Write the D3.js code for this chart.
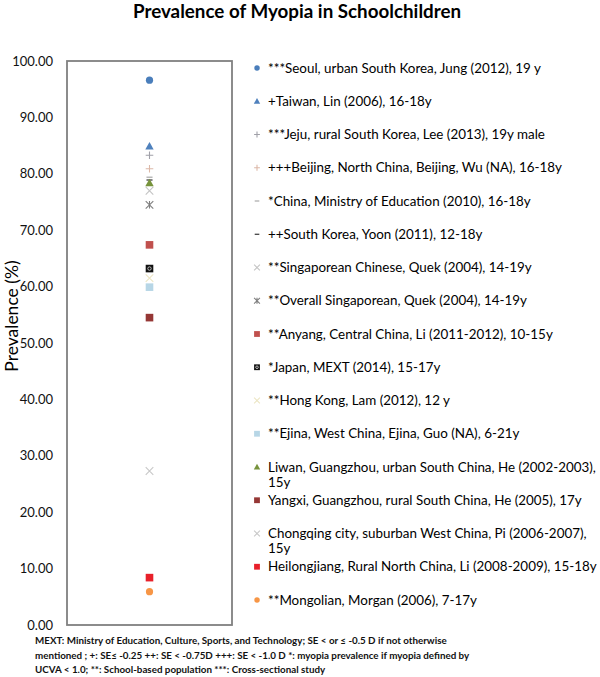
<!DOCTYPE html>
<html>
<head>
<meta charset="utf-8">
<script src="https://cdn.jsdelivr.net/npm/d3@7"></script>
<style>
  body { margin: 0; background: #fff; }
  svg { font-family: Lato, "Open Sans", sans-serif; }
</style>
</head>
<body>
<svg id="chart" width="600" height="677"></svg>
<script>
// studies, in legend order
const studies = [
  "***Seoul, urban South Korea,  Jung (2012), 19 y",
  "+Taiwan, Lin (2006), 16-18y",
  "***Jeju, rural South Korea, Lee (2013), 19y male",
  "+++Beijing, North China, Beijing, Wu (NA), 16-18y",
  "*China, Ministry of Education (2010), 16-18y",
  "++South Korea, Yoon (2011), 12-18y",
  "**Singaporean Chinese, Quek (2004), 14-19y",
  "**Overall Singaporean, Quek (2004), 14-19y",
  "**Anyang, Central China, Li (2011-2012), 10-15y",
  "*Japan, MEXT (2014), 15-17y",
  "**Hong Kong, Lam (2012), 12 y",
  "**Ejina, West China, Ejina, Guo (NA), 6-21y",
  "Liwan, Guangzhou, urban South China, He (2002-2003), 15y",
  "Yangxi, Guangzhou, rural South China, He (2005), 17y",
  "Chongqing city, suburban West China, Pi (2006-2007), 15y",
  "Heilongjiang, Rural North China, Li (2008-2009), 15-18y",
  "**Mongolian, Morgan (2006), 7-17y"
]

// prevalence (%)
const prevalence = [96.6, 84.9, 83.3, 80.9, 79.4, 78.9, 77.0, 74.5, 67.4, 63.2, 61.5, 59.9, 78.4, 54.5, 27.3, 8.4, 5.9]

const yTicks = [0, 10, 20, 30, 40, 50, 60, 70, 80, 90, 100]

const footnote = [
  "MEXT: Ministry of Education, Culture, Sports, and Technology; SE < or \u2264 -0.5 D if not otherwise",
  "mentioned ; +: SE\u2264 -0.25 ++: SE < -0.75D +++: SE < -1.0 D *: myopia prevalence if myopia defined by",
  "UCVA < 1.0; **: School-based population ***: Cross-sectional study"
]

let data = studies.map((s, i) => ({ study: s, value: prevalence[i] }))

// marker styles per study
let shapes = ["circle", "triangle", "plus", "plus", "dash", "dash", "x", "asterisk", "square",
  "japan", "x", "square", "triangle", "square", "x", "square", "circle"]
let colors = ["#4a7ebb", "#4f81bd", "#a0a0a8", "#dcb8a8", "#a0a0a0", "#222222", "#c4c4c4", "#7f7f7f",
  "#c0504d", "#111111", "#ece6c4", "#b7d6e6", "#77933c", "#953735", "#c8c8c8", "#e8202a", "#f79646"]

let shapeOf = d3.scaleOrdinal().domain(studies).range(shapes)
let colorOf = d3.scaleOrdinal().domain(studies).range(colors)

let svg = d3.select("#chart")
let margin = { top: 61, bottom: 52, left: 67, right: 368 }
let width = 600, height = 677

let y = d3.scaleLinear().domain([0, 100]).range([height - margin.bottom, margin.top])
let x = d3.scalePoint().domain(["all"]).range([margin.left, width - margin.right]).padding(0.5)

// draws a marker of size s (half width) centred at 0,0
function marker(g, shape, color, s) {
  if (shape == "circle") {
    g.append("circle").attr("r", s * 0.95).style("fill", color)
  } else if (shape == "square") {
    g.append("rect").attr("x", -s).attr("y", -s).attr("width", 2 * s).attr("height", 2 * s).style("fill", color)
  } else if (shape == "japan") {
    g.append("rect").attr("x", -s).attr("y", -s).attr("width", 2 * s).attr("height", 2 * s).style("fill", color)
    g.append("circle").attr("r", s * 0.45).style("fill", "none").style("stroke", "#ddd").style("stroke-width", 0.8)
  } else if (shape == "triangle") {
    let h = s * 1.1
    g.append("path").attr("d", `M0,${-h}L${h},${h * 0.8}L${-h},${h * 0.8}Z`).style("fill", color)
  } else {
    let p = d3.path()
    if (shape == "plus") {
      p.moveTo(-s, 0); p.lineTo(s, 0); p.moveTo(0, -s); p.lineTo(0, s)
    }
    if (shape == "x" || shape == "asterisk") {
      p.moveTo(-s, -s); p.lineTo(s, s); p.moveTo(-s, s); p.lineTo(s, -s)
    }
    if (shape == "asterisk") {
      p.moveTo(0, -s); p.lineTo(0, s)
    }
    if (shape == "dash") {
      p.moveTo(-s * 0.8, 0); p.lineTo(s * 0.8, 0)
    }
    g.append("path").attr("d", p.toString()).style("fill", "none")
      .style("stroke", color).style("stroke-width", 1.1)
  }
}

// title
svg.append("text")
  .attr("x", 297)
  .attr("y", 18)
  .attr("text-anchor", "middle")
  .style("font-size", "18.8px")
  .style("font-weight", "bold")
  .style("fill", "#000")
  .text("Prevalence of Myopia in Schoolchildren")

// plot box
svg.append("rect")
  .attr("x", margin.left)
  .attr("y", y(100))
  .attr("width", width - margin.right - margin.left)
  .attr("height", y(0) - y(100))
  .style("fill", "none")
  .style("stroke", "#808080")
  .style("stroke-width", "1.8px")

let yAxis = svg.append("g")
  .attr("transform", `translate(${margin.left},0)`)
  .call(d3.axisLeft(y).tickValues(yTicks).tickFormat(d3.format(".2f")).tickSize(0).tickPadding(14))
yAxis.select(".domain").remove()
yAxis.selectAll("text")
  .style("font-family", "Lato, sans-serif")
  .style("font-size", "13px")
  .style("fill", "#111")

svg.append("text")
  .attr("transform", "translate(18,316) rotate(-90)")
  .attr("text-anchor", "middle")
  .style("font-size", "17.5px")
  .style("fill", "#000")
  .text("Prevalence (%)")

// points
svg.append("g")
  .selectAll("g")
  .data(data)
  .join("g")
  .attr("transform", d => `translate(${x("all")},${y(d.value)})`)
  .each(function (d) { marker(d3.select(this), shapeOf(d.study), colorOf(d.study), 3.8) })

// legend
let legendY = d3.scalePoint().domain(studies).range([68, 600])
let legend = svg.append("g")
  .selectAll("g")
  .data(data)
  .join("g")
  .attr("transform", d => `translate(257,${legendY(d.study)})`)

legend.each(function (d) {
  let g = d3.select(this)
  marker(g, shapeOf(d.study), colorOf(d.study), 2.9)
  let t = g.append("text")
    .attr("x", 11)
    .attr("y", 4.6)
    .style("font-size", "13.4px")
    .style("fill", "#000")
  // wrap long entries onto a second line
  let words = d.study.split(" ")
  let line = []
  let tspan = t.append("tspan").attr("x", 11)
  words.forEach(w => {
    line.push(w)
    tspan.text(line.join(" "))
    if (tspan.node().getComputedTextLength() > 334 && line.length > 1) {
      line.pop()
      tspan.text(line.join(" "))
      line = [w]
      tspan = t.append("tspan").attr("x", 11).attr("dy", 15).text(w)
    }
  })
})

// footnote
svg.append("g")
  .selectAll("text")
  .data(footnote)
  .join("text")
  .attr("x", 35)
  .attr("y", (d, i) => 644 + i * 14.5)
  .style("font-size", "9.8px")
  .style("font-weight", "bold")
  .style("fill", "#111")
  .text(d => d)
</script>
</body>
</html>
